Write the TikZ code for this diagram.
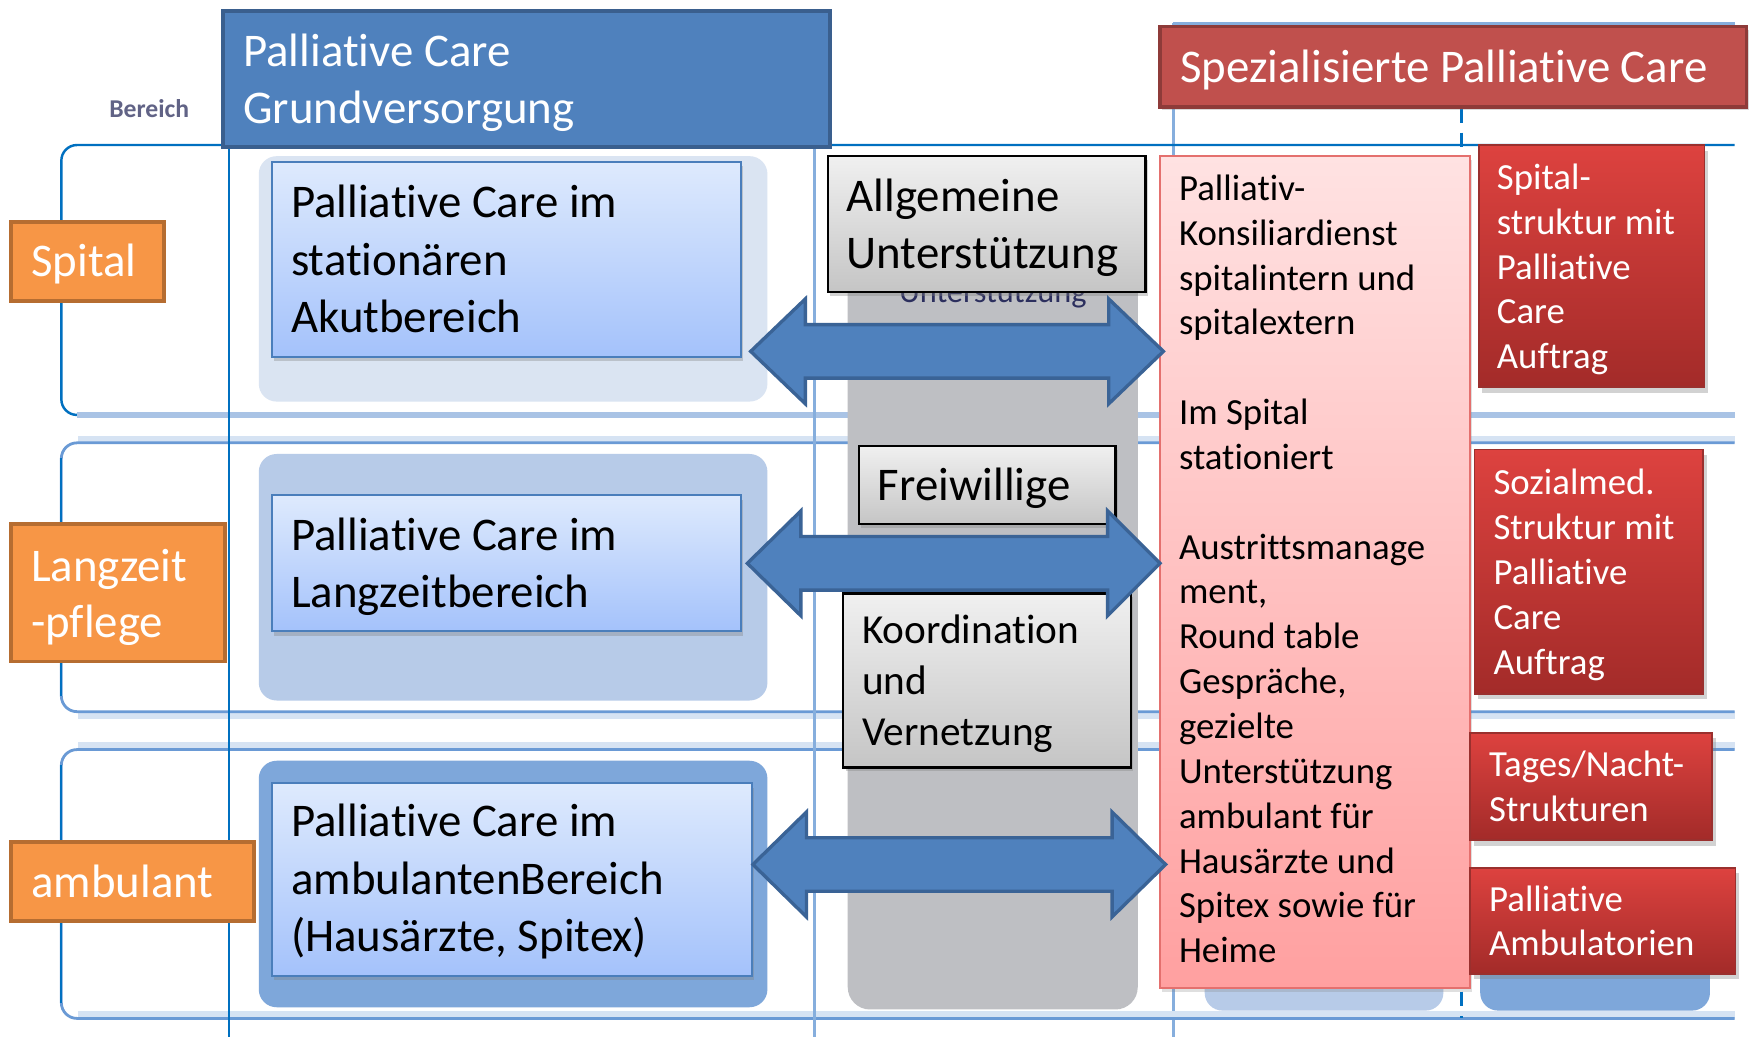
\documentclass[tikz,border=0pt]{standalone}
\usepackage{fontspec}
\setmainfont{Carlito}[RawFeature={-liga}]
\usetikzlibrary{shadows}

\definecolor{HdrBlue}{HTML}{4F81BD}
\definecolor{HdrBlueB}{HTML}{3A5F8E}
\definecolor{HdrRed}{HTML}{C0504D}
\definecolor{HdrRedB}{HTML}{8E3B39}
\definecolor{OrgF}{HTML}{F79646}
\definecolor{OrgB}{HTML}{B66D31}
\definecolor{BlueTop}{HTML}{DEEAFD}
\definecolor{BlueBot}{HTML}{A4C2FB}
\definecolor{BlueB}{HTML}{4A7EBB}
\definecolor{BgA}{HTML}{DAE4F2}
\definecolor{BgB}{HTML}{B7CBE8}
\definecolor{BgC}{HTML}{7EA7DA}
\definecolor{GrayCol}{HTML}{BEBFC3}
\definecolor{GrayTop}{HTML}{F0F0F0}
\definecolor{GrayBot}{HTML}{C5C5C5}
\definecolor{PinkTop}{HTML}{FFE2E2}
\definecolor{PinkBot}{HTML}{FFA0A0}
\definecolor{PinkB}{HTML}{E4706E}
\definecolor{RedTop}{HTML}{DD423F}
\definecolor{RedBot}{HTML}{A32B29}
\definecolor{RedB}{HTML}{9A302E}
\definecolor{ArrF}{HTML}{4F81BD}
\definecolor{ArrB}{HTML}{3A6396}
\definecolor{DarkLine}{HTML}{0070C0}
\definecolor{RowLine}{HTML}{6A9AD5}
\definecolor{RowHalo}{HTML}{D6E3F3}
\definecolor{ColLine}{HTML}{86AEDD}
\definecolor{ThickLight}{HTML}{A9C3E5}
\definecolor{GhostC}{HTML}{2C2F5E}

\newcommand\fA{\fontsize{42}{51.5}\selectfont}
\newcommand\fB{\fontsize{37}{46}\selectfont}
\newcommand\fC{\fontsize{33}{40.2}\selectfont}

\tikzset{
  every node/.style={outer sep=0pt},
  boxbase/.style={anchor=north west, inner sep=0pt},
  hdrbluebox/.style={boxbase, fill=HdrBlue, draw=HdrBlueB, line width=3.5},
  hdrredbox/.style={boxbase, fill=HdrRed, draw=HdrRedB, line width=3,
    drop shadow={shadow xshift=2pt, shadow yshift=-3pt, opacity=0.3}},
  orangebox/.style={boxbase, fill=OrgF, draw=OrgB, line width=3.5},
  bluebox/.style={boxbase, top color=BlueTop, bottom color=BlueBot, draw=BlueB, line width=2,
    drop shadow={shadow xshift=2pt, shadow yshift=-4pt, opacity=0.35}},
  bgbox/.style={boxbase, rounded corners=16},
  graybox/.style={boxbase, top color=GrayTop, bottom color=GrayBot, draw=black, line width=2,
    drop shadow={shadow xshift=2pt, shadow yshift=-3pt, opacity=0.35}},
  pinkbox/.style={boxbase, top color=PinkTop, bottom color=PinkBot, draw=PinkB, line width=1.5,
    drop shadow={shadow xshift=2pt, shadow yshift=-3pt, opacity=0.25}},
  redbox/.style={boxbase, top color=RedTop, bottom color=RedBot, draw=RedB, line width=1.5,
    drop shadow={shadow xshift=3pt, shadow yshift=-5pt, opacity=0.35}},
  lbl/.style={anchor=west, align=left, inner sep=0pt},
  dblarrow/.style={fill=ArrF, draw=ArrB, line width=3, line join=miter},
  rowframe/.style={draw=RowLine, line width=2.5, rounded corners=14},
  rowhalo/.style={draw=RowHalo, line width=7},
}

\begin{document}
\begin{tikzpicture}[x=1pt, y=-1pt]
\useasboundingbox (0,0) rectangle (1568,930);
\fill[white] (0,0) rectangle (1568,930);

% ---------- table lines ----------
\draw[ColLine, line width=2.5] (1052,21) -- (1555,21);
\draw[ColLine, line width=2.5] (1052,21) -- (1052,930);

\draw[rowhalo] (70,394) -- (1555,394);
\draw[rowhalo] (70,641) -- (1555,641);
\draw[rowhalo] (70,669) -- (1555,669);
\draw[rowhalo] (70,910) -- (1555,910);

\draw[draw=DarkLine, line width=2.2, rounded corners=14] (1555,130) -- (55,130) -- (55,372) -- (1555,372);
\draw[rowframe] (1555,397) -- (55,397) -- (55,638) -- (1555,638);
\draw[rowframe] (1555,672) -- (55,672) -- (55,913) -- (1555,913);
\draw[draw=DarkLine, line width=2] (55,411) -- (55,624);
\draw[draw=DarkLine, line width=2] (55,686) -- (55,899);
\draw[ThickLight, line width=6] (69,372) -- (1555,372);

\draw[DarkLine, line width=2] (205,130) -- (205,930);
\draw[ColLine, line width=3] (730,130) -- (730,930);
\draw[DarkLine, line width=3, dash pattern=on 13pt off 9pt] (1310,97) -- (1310,913);

% ---------- background boxes ----------
\node[bgbox, fill=BgA, minimum width=456, minimum height=220] (bgA) at (232,140) {};
\node[bgbox, fill=BgB, minimum width=456, minimum height=221] (bgB) at (232,407) {};
\node[bgbox, fill=BgC, minimum width=456, minimum height=221] (bgC) at (232,682) {};
\node[bgbox, fill=BgB, minimum width=214, minimum height=106] (bgD) at (1080,800) {};
\node[bgbox, fill=BgC, minimum width=206, minimum height=106] (bgE) at (1327,800) {};

\node[anchor=west, inner sep=0pt, font=\fontsize{23}{24}\selectfont\bfseries, text=GhostC!75] (bereich) at (98,97) {Bereich};

% ---------- grey column ----------
\node[bgbox, rounded corners=20, fill=GrayCol, minimum width=260, minimum height=765] (gcol) at (760,140) {};
\node[anchor=base west, inner sep=0pt, font=\fontsize{29}{30}\selectfont, text=GhostC] (ghostU) at (806,271) {Unterstützung};

% ---------- headers ----------
\node[hdrbluebox, minimum width=544, minimum height=122] (hdrB) at (200,10) {};
\node[lbl, text=white, font=\fA] (hdrBt) at ([xshift=18pt, yshift=-3pt]hdrB.west) {Palliative Care\\Grundversorgung};

\node[hdrredbox, minimum width=526, minimum height=72] (hdrR) at (1040,24) {};
\node[lbl, text=white, font=\fA] (hdrRt) at ([xshift=18pt, yshift=-3pt]hdrR.west) {Spezialisierte Palliative Care};

% ---------- row labels ----------
\node[orangebox, minimum width=137, minimum height=71] (oS) at (10,199) {};
\node[lbl, text=white, font=\fA] (oSt) at ([xshift=18pt, yshift=-2pt]oS.west) {Spital};
\node[orangebox, minimum width=192, minimum height=123] (oL) at (10,470) {};
\node[lbl, text=white, font=\fontsize{42}{50}\selectfont] (oLt) at ([xshift=18pt, yshift=-4pt]oL.west) {Langzeit\\-pflege};
\node[orangebox, minimum width=218, minimum height=71] (oA) at (10,755) {};
\node[lbl, text=white, font=\fA] (oAt) at ([xshift=18pt]oA.west) {ambulant};

% ---------- basic care boxes ----------
\node[bluebox, minimum width=420, minimum height=175] (b1) at (244,145) {};
\node[lbl, font=\fA] (b1t) at ([xshift=17pt]b1.west) {Palliative Care im\\stationären\\Akutbereich};
\node[bluebox, minimum width=420, minimum height=122] (b2) at (244,444) {};
\node[lbl, font=\fA] (b2t) at ([xshift=17pt, yshift=-3pt]b2.west) {Palliative Care im\\Langzeitbereich};
\node[bluebox, minimum width=430, minimum height=173] (b3) at (244,702) {};
\node[lbl, font=\fA] (b3t) at ([xshift=17pt, yshift=-2pt]b3.west) {Palliative Care im\\ambulantenBereich\\(Hausärzte, Spitex)};

% ---------- grey boxes ----------
\node[graybox, minimum width=285, minimum height=122] (g1) at (742,140) {};
\node[lbl, font=\fA] (g1t) at ([xshift=17pt, yshift=-3pt]g1.west) {Allgemeine\\Unterstützung};
\node[graybox, minimum width=230, minimum height=70] (g2) at (770,400) {};
\node[lbl, font=\fA] (g2t) at ([xshift=17pt, yshift=-3pt]g2.west) {Freiwillige};
\node[graybox, minimum width=258, minimum height=156] (g3) at (756,532) {};
\node[lbl, font=\fB] (g3t) at ([xshift=17pt, yshift=-3pt]g3.west) {Koordination\\und\\Vernetzung};

% ---------- specialised ----------
\node[pinkbox, minimum width=278, minimum height=746] (pk) at (1040,140) {};
\node[lbl, font=\fC] (pkt) at ([xshift=17pt, yshift=3pt]pk.west) {Palliativ-\\Konsiliardienst\\spitalintern und\\spitalextern\\[40.2pt]Im Spital\\stationiert\\[40.2pt]Austrittsmanage\\ment,\\Round table\\Gespräche,\\gezielte\\Unterstützung\\ambulant für\\Hausärzte und\\Spitex sowie für\\Heime};

\node[redbox, minimum width=202, minimum height=217] (r1) at (1326,130) {};
\node[lbl, text=white, font=\fC] (r1t) at ([xshift=16pt, yshift=-3pt]r1.west) {Spital-\\struktur mit\\Palliative\\Care\\Auftrag};
\node[redbox, minimum width=205, minimum height=219] (r2) at (1322,403) {};
\node[lbl, text=white, font=\fC] (r2t) at ([xshift=17pt, yshift=-3pt]r2.west) {Sozialmed.\\Struktur mit\\Palliative\\Care\\Auftrag};
\node[redbox, minimum width=217, minimum height=96] (r3) at (1318,657) {};
\node[lbl, text=white, font=\fC] (r3t) at ([xshift=17pt]r3.west) {Tages/Nacht-\\Strukturen};
\node[redbox, minimum width=238, minimum height=95] (r4) at (1318,778) {};
\node[lbl, text=white, font=\fC] (r4t) at ([xshift=17pt]r4.west) {Palliative\\Ambulatorien};

% ---------- double arrows ----------
\draw[dblarrow] (673,315) -- (722,268) -- (722,291) -- (994,291) -- (994,268) -- (1043,315)
  -- (994,362) -- (994,339) -- (722,339) -- (722,362) -- cycle;
\draw[dblarrow] (670,505) -- (718,458) -- (718,481) -- (993,481) -- (993,458) -- (1040,505)
  -- (993,552) -- (993,529) -- (718,529) -- (718,552) -- cycle;
\draw[dblarrow] (675,775) -- (723,728) -- (723,751) -- (997,751) -- (997,728) -- (1045,775)
  -- (997,822) -- (997,799) -- (723,799) -- (723,822) -- cycle;
\end{tikzpicture}
\end{document}
